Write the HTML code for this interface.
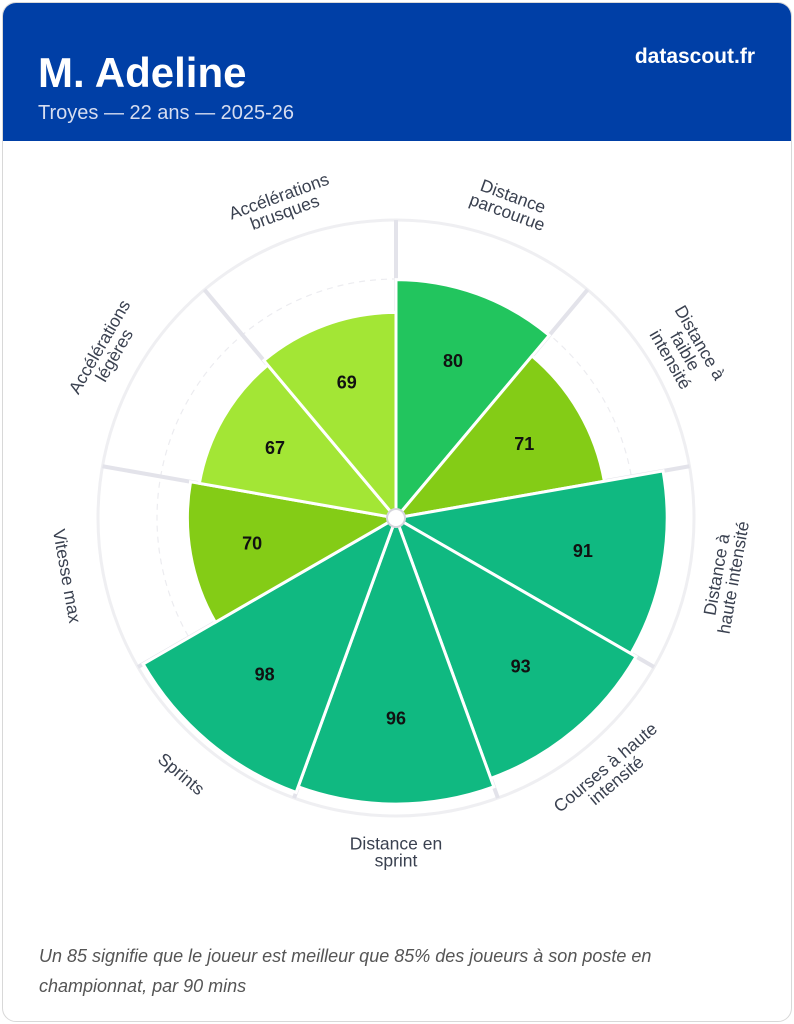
<!DOCTYPE html>
<html><head><meta charset="utf-8"><style>
html,body{margin:0;padding:0;background:#fff;}
body{width:794px;height:1024px;position:relative;font-family:"Liberation Sans",sans-serif;overflow:hidden}
.card{position:absolute;left:2px;top:2px;width:788px;height:1018px;border:1px solid #d8d8d8;border-radius:14px;overflow:hidden;background:#fff}
.hdr{position:absolute;left:0;top:0;width:788px;height:138px;background:#003fa6}
.name{position:absolute;left:35px;top:46px;color:#fff;font-weight:bold;font-size:42px}
.sub{position:absolute;left:35px;top:99px;color:#d6ddf0;font-size:20px}
.brand{position:absolute;right:36px;top:42px;color:#fff;font-weight:bold;font-size:21px}
.foot{position:absolute;left:36px;top:938px;width:700px;color:#555;font-style:italic;font-size:18px;line-height:30px}
svg{position:absolute;left:0;top:0}
</style></head><body>
<div class="card">
<div class="hdr"><div class="name">M. Adeline</div><div class="sub">Troyes — 22 ans — 2025-26</div><div class="brand">datascout.fr</div></div>
<div class="foot">Un 85 signifie que le joueur est meilleur que 85% des joueurs à son poste en championnat, par 90 mins</div>
</div>
<svg width="794" height="1024" id="s" font-family="Liberation Sans, sans-serif"></svg>
<script>
const s=document.getElementById('s');const cx=396,cy=518,R=298;
const d=[[80,'#22c55e',['Distance','parcourue']],[71,'#84cc16',['Distance à','faible','intensité']],[91,'#10b981',['Distance à','haute intensité']],[93,'#10b981',['Courses à haute','intensité']],[96,'#10b981',['Distance en','sprint']],[98,'#10b981',['Sprints']],[70,'#84cc16',['Vitesse max']],[67,'#a3e635',['Accélérations','légères']],[69,'#a3e635',['Accélérations','brusques']]];
let h='';
const P=(r,a)=>{const t=a*Math.PI/180;return [cx+r*Math.sin(t),cy-r*Math.cos(t)];};
h+=`<circle cx="${cx}" cy="${cy}" r="${R}" fill="none" stroke="#efeff2" stroke-width="3"/>`;
h+=`<circle cx="${cx}" cy="${cy}" r="239" fill="none" stroke="#ececf0" stroke-width="1.2" stroke-dasharray="6 5"/>`;
for(let i=0;i<9;i++){const [x,y]=P(R,i*40);h+=`<line x1="${cx}" y1="${cy}" x2="${x}" y2="${y}" stroke="#e3e3ea" stroke-width="4"/>`;}
d.forEach((v,i)=>{const r=v[0]/100*R,a0=i*40,a1=a0+40;const [x0,y0]=P(r,a0),[x1,y1]=P(r,a1);
h+=`<path d="M${cx},${cy}L${x0},${y0}A${r},${r} 0 0 1 ${x1},${y1}Z" fill="${v[1]}" stroke="#fff" stroke-width="3"/>`;
const [tx,ty]=P(r*0.7,a0+20);h+=`<text x="${tx}" y="${ty+6}" text-anchor="middle" font-weight="bold" font-size="18" fill="#111">${v[0]}</text>`;
const m=a0+20;let rot=m<90?m:(m<270?m-180:m-360);const [lx,ly]=P(334,m);const n=v[2].length;
let t=`<text transform="translate(${lx},${ly}) rotate(${rot})" text-anchor="middle" font-size="17.5" fill="#3a4150">`;
v[2].forEach((w,j)=>{t+=`<tspan x="0" y="${(j-(n-1)/2)*17+6}">${w}</tspan>`;});h+=t+'</text>';});
h+=`<circle cx="${cx}" cy="${cy}" r="9" fill="#fff" stroke="#d5d5dc" stroke-width="2"/>`;
s.innerHTML=h;
</script>
</body></html>
